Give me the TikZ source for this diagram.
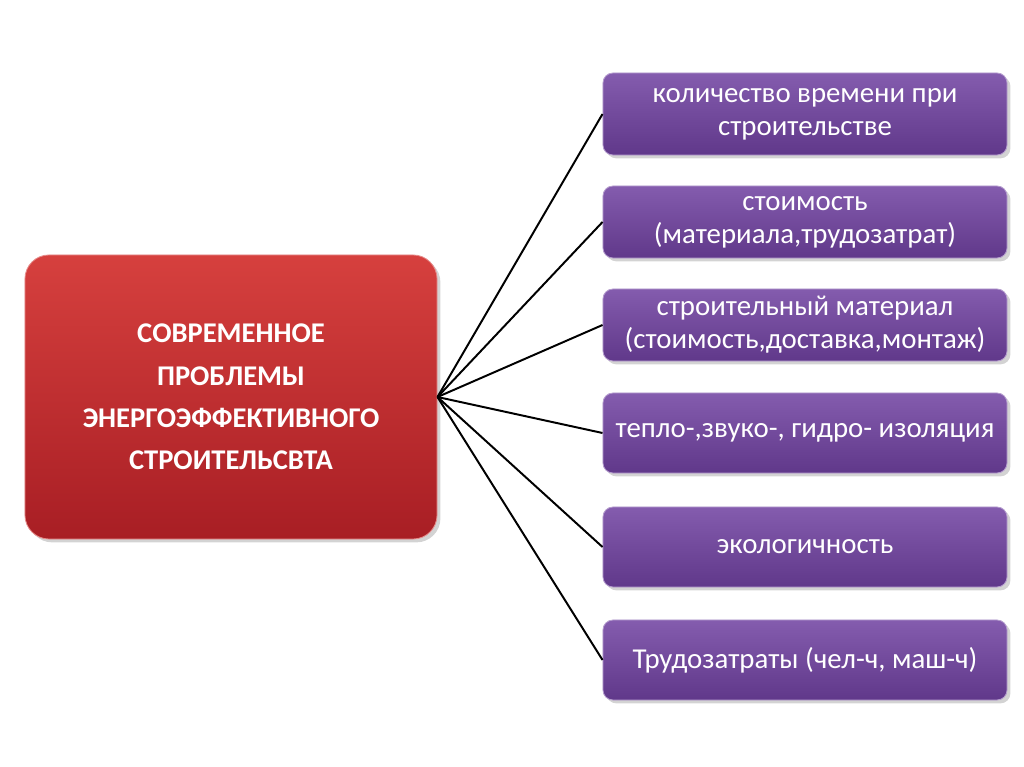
\documentclass[tikz,border=0pt]{standalone}
\usepackage{fontspec}
\setmainfont{Carlito}
\usetikzlibrary{shadows}
\definecolor{probtop}{RGB}{214,64,62}
\definecolor{probbot}{RGB}{168,30,36}
\definecolor{facttop}{RGB}{132,92,174}
\definecolor{factbot}{RGB}{96,56,138}
\tikzset{
prob/.style={rounded corners=0.6cm,top color=probtop,bottom color=probbot,draw=probtop!60!white,line width=0.6pt,drop shadow={opacity=0.35},minimum width=10.3cm,minimum height=7.1cm,align=center,text=white,font=\fontsize{20.3}{30}\selectfont\bfseries},
fact/.style={rounded corners=0.25cm,top color=facttop,bottom color=factbot,draw=facttop!60!white,line width=0.6pt,drop shadow={opacity=0.35},minimum width=10.1cm,align=center,text=white,font=\fontsize{20.5}{23.5}\selectfont},
link/.style={black,line width=1.4pt}}
\begin{document}
\begin{tikzpicture}[x=0.025cm,y=-0.025cm]
\useasboundingbox (0,0) rectangle (1024,767);
\node[prob] (prob) at (231,397) {СОВРЕМЕННОЕ\\ПРОБЛЕМЫ\\ЭНЕРГОЭФФЕКТИВНОГО\\СТРОИТЕЛЬСВТА};
\node[fact,minimum height=2.05cm] (f1) at (805,114) {количество времени при\\строительстве};
\node[fact,minimum height=1.8cm] (f2) at (805,222) {стоимость\\(материала,трудозатрат)};
\node[fact,minimum height=1.8cm] (f3) at (805,325) {строительный материал\\(стоимость,доставка,монтаж)};
\node[fact,minimum height=2cm] (f4) at (805,433) {тепло-,звуко-, гидро- изоляция};
\node[fact,minimum height=2cm] (f5) at (805,547) {экологичность};
\node[fact,minimum height=2cm] (f6) at (805,660) {Трудозатраты (чел-ч, маш-ч)};
\foreach \i in {1,...,6} \draw[link] (prob.east) -- (f\i.west);
\end{tikzpicture}
\end{document}
